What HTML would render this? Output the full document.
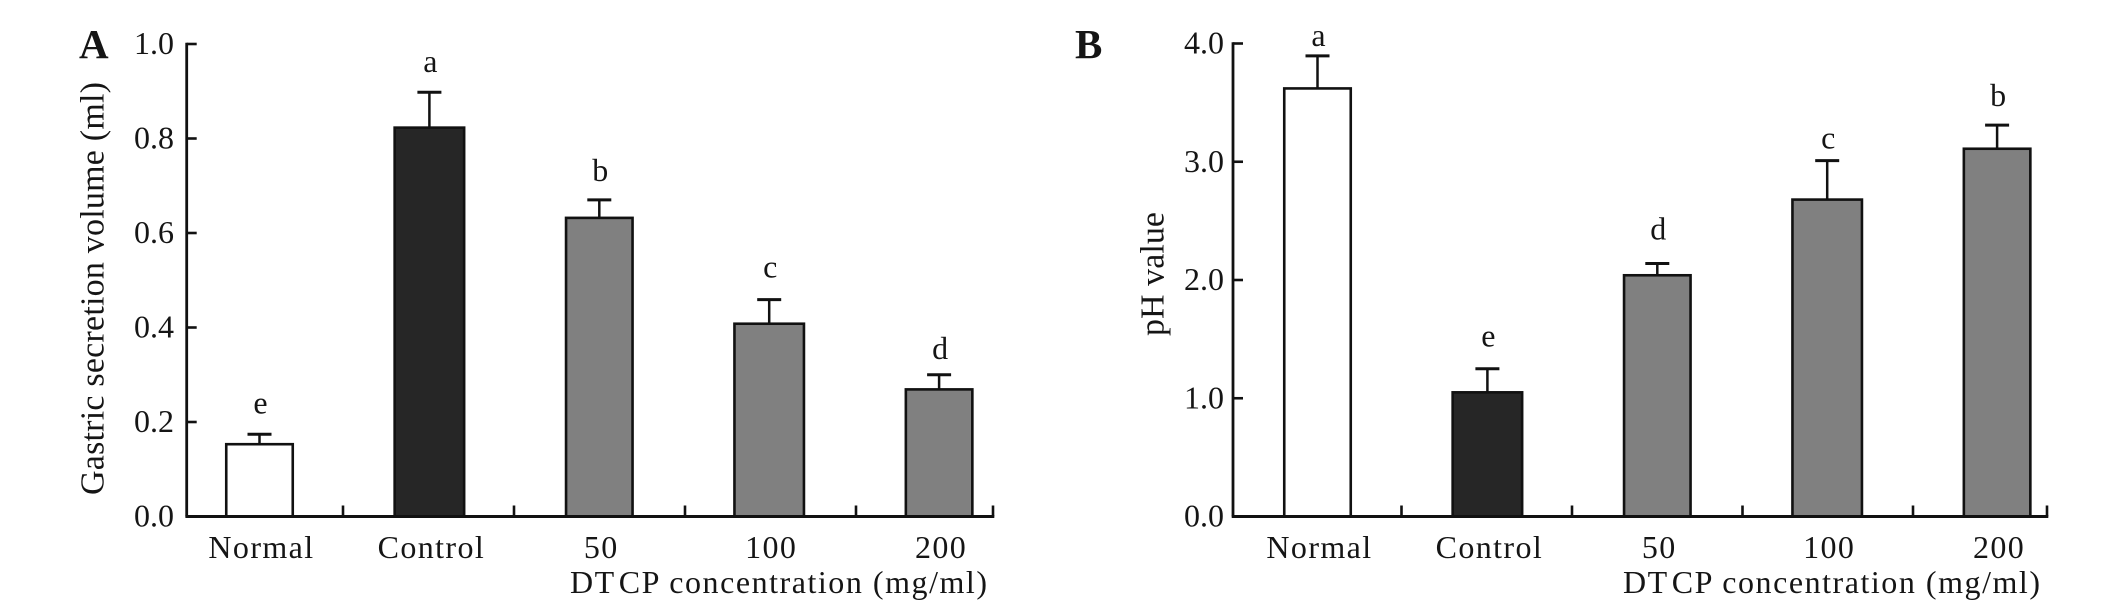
<!DOCTYPE html>
<html>
<head>
<meta charset="utf-8">
<title>Gastric secretion volume and pH value</title>
<style>
html,body{margin:0;padding:0;background:#fff;width:2126px;height:601px;overflow:hidden}
svg{display:block}
text{font-family:"Liberation Serif",serif;fill:#151515}
</style>
</head>
<body>
<svg id="figure" xmlns="http://www.w3.org/2000/svg" width="2126" height="601" viewBox="0 0 2126 601">
<rect x="0" y="0" width="2126" height="601" fill="#ffffff"/>
<text x="79" y="58" font-size="41" font-weight="bold" fill="#000">A</text>
<text x="1075" y="58" font-size="41" font-weight="bold" fill="#000">B</text>
<text transform="translate(103.5,495) rotate(-90)" font-size="34" textLength="413" lengthAdjust="spacing">Gastric secretion volume (ml)</text>
<text transform="translate(1163.5,336) rotate(-90)" font-size="34" textLength="124" lengthAdjust="spacing">pH value</text>
<text x="570" y="593" font-size="32" textLength="417" lengthAdjust="spacing">DT<tspan dx="3">CP</tspan> concentration (mg/ml)</text>
<text x="1623" y="593" font-size="32" textLength="417" lengthAdjust="spacing">DT<tspan dx="3">CP</tspan> concentration (mg/ml)</text>
</svg>
<script>
const categories = ['Normal', 'Control', '50', '100', '200'];
const barFills = ['#ffffff', '#262626', '#808080', '#808080', '#808080'];

const volumeValues = [0.153, 0.823, 0.632, 0.408, 0.269];
const volumeErrorTops = [0.174, 0.898, 0.670, 0.459, 0.300];
const volumeLetters = ['e', 'a', 'b', 'c', 'd'];
const volumeTicks = ['0.0', '0.2', '0.4', '0.6', '0.8', '1.0'];

const phValues = [3.62, 1.05, 2.04, 2.68, 3.11];
const phErrorTops = [3.895, 1.25, 2.14, 3.01, 3.31];
const phLetters = ['a', 'e', 'd', 'c', 'b'];
const phTicks = ['0.0', '1.0', '2.0', '3.0', '4.0'];

const svg = document.getElementById('figure');
const NS = 'http://www.w3.org/2000/svg';

function make(tag, attrs, text) {
  const el = document.createElementNS(NS, tag);
  for (const k in attrs) el.setAttribute(k, attrs[k]);
  if (text !== undefined) el.textContent = text;
  svg.appendChild(el);
  return el;
}

function drawPanel(p) {
  const y = v => p.y0 - (v / p.maxValue) * (p.y0 - p.yTop);
  const x = i => p.firstCenter + i * p.step;
  const tickX = i => (i === categories.length - 1) ? p.xEnd : p.firstTick + i * p.tickStep;

  categories.forEach((cat, i) => {
    const bw = i === 1 || i === 3 ? 69.5 : 66.5;
    const errLine = make('line', {x1: x(i), x2: x(i), y1: y(p.values[i]), y2: y(p.errors[i]), stroke: '#111', 'stroke-width': 2.5});
    
    

    const errCap = make('line', {x1: x(i) - 12, x2: x(i) + 12, y1: y(p.errors[i]), y2: y(p.errors[i]), stroke: '#111', 'stroke-width': 3});
    
    

    const bar = make('rect', {x: x(i) - bw / 2, y: y(p.values[i]), width: bw, height: y(0) - y(p.values[i]), fill: barFills[i], stroke: '#111', 'stroke-width': 2.6});
    
    

    const letter = make('text', {x: x(i) + 1, y: y(p.errors[i]) - p.letterGaps[i], 'font-size': 32, 'text-anchor': 'middle'}, p.letters[i]);
    
    

    const label = make('text', {x: x(i) + 2, y: 558, 'font-size': 32, 'text-anchor': 'middle', 'letter-spacing': 1.4}, cat);
    
    

    const xTick = make('line', {x1: tickX(i), x2: tickX(i), y1: p.y0, y2: p.y0 - 11, stroke: '#111', 'stroke-width': 2.6});
    
    
  });

  const xAxis = make('line', {x1: p.axisX - 1.3, x2: p.xEnd + 1.3, y1: p.y0, y2: p.y0, stroke: '#111', 'stroke-width': 3});
  
  

  const yAxis = make('line', {x1: p.axisX, x2: p.axisX, y1: p.yTop - 1.3, y2: p.y0, stroke: '#111', 'stroke-width': 2.8});
  
  

  p.ticks.forEach(t => {
    const v = parseFloat(t);
    const yTick = make('line', {x1: p.axisX, x2: p.axisX + 10, y1: y(v), y2: y(v), stroke: '#111', 'stroke-width': 2.6});
    
    

    const yLabel = make('text', {x: p.tickLabelRight, y: y(v) + 10, 'font-size': 32, 'text-anchor': 'end'}, t);
    
    
  });
}

drawPanel({
  id: 'a', values: volumeValues, errors: volumeErrorTops, letters: volumeLetters, ticks: volumeTicks,
  maxValue: 1, y0: 516.5, yTop: 44, axisX: 186.7, xEnd: 993,
  firstCenter: 259.5, step: 169.9, firstTick: 343, tickStep: 171,
  tickLabelRight: 174, letterGaps: [21, 20, 19, 22, 16]
});

drawPanel({
  id: 'b', values: phValues, errors: phErrorTops, letters: phLetters, ticks: phTicks,
  maxValue: 4, y0: 516.5, yTop: 43.5, axisX: 1233, xEnd: 2047,
  firstCenter: 1317.5, step: 169.9, firstTick: 1401.5, tickStep: 170.5,
  tickLabelRight: 1224, letterGaps: [10, 22, 24, 12, 19]
});
</script>
</body>
</html>
